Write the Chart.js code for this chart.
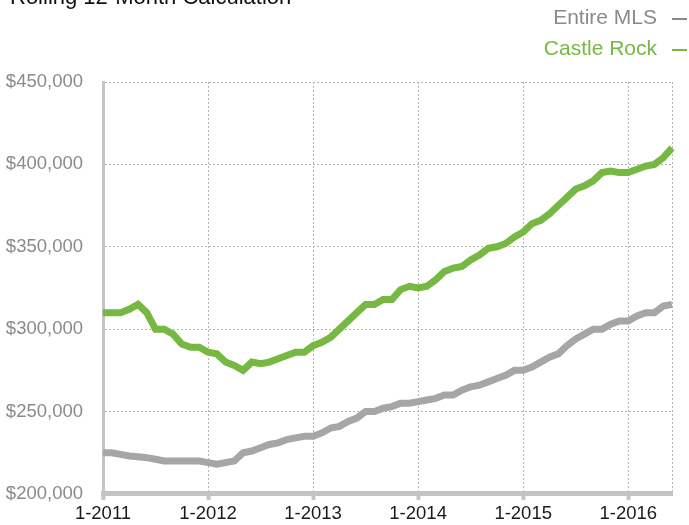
<!DOCTYPE html>
<html>
<head>
<meta charset="utf-8">
<script src="https://cdn.jsdelivr.net/npm/chart.js@4"></script>
<style>
  html, body { margin: 0; padding: 0; background: #fff; }
</style>
</head>
<body>
<canvas id="chart" width="689" height="525"></canvas>
<script>
// monthly labels 1-2011 .. 6-2016
const months = [];
for (let y = 2011; y <= 2016; y++) {
  for (let m = 1; m <= 12; m++) {
    if (y === 2016 && m > 6) break;
    months.push(m + "-" + y);
  }
}

const entireMls = [
  225000, 225000, 224000, 223000, 222500, 222000, 221000, 220000, 220000, 220000, 220000, 220000,
  219000, 218000, 219000, 220000, 225000, 226000, 228000, 230000, 231000, 233000, 234000, 235000,
  235000, 237000, 240000, 241000, 244000, 246000, 250000, 250000, 252000, 253000, 255000, 255000,
  256000, 257000, 258000, 260000, 260000, 263000, 265000, 266000, 268000, 270000, 272000, 275000,
  275000, 277000, 280000, 283000, 285000, 290000, 294000, 297000, 300000, 300000, 303000, 305000,
  305000, 308000, 310000, 310000, 314000, 315000
];

const castleRock = [
  310000, 310000, 310000, 312000, 315000, 310000, 300000, 300000, 297000, 291000, 289000, 289000,
  286000, 285000, 280000, 278000, 275000, 280000, 279000, 280000, 282000, 284000, 286000, 286000,
  290000, 292000, 295000, 300000, 305000, 310000, 315000, 315000, 318000, 318000, 324000, 326000,
  325000, 326000, 330000, 335000, 337000, 338000, 342000, 345000, 349000, 350000, 352000, 356000,
  359000, 364000, 366000, 370000, 375000, 380000, 385000, 387000, 390000, 395000, 396000, 395000,
  395000, 397000, 399000, 400000, 404000, 410000
];

const seriesNames = ["Entire MLS", "Castle Rock"];
const seriesColors = ["#a6a6a6", "#77b843"];
const legendColors = ["#8a8a8a", "#77b843"];

const FONT = "'Liberation Sans', Arial, sans-serif";

const headerPlugin = {
  id: "header",
  afterDraw(chart) {
    const ctx = chart.ctx;
    ctx.save();
    ctx.fillStyle = "#111";
    ctx.font = "22px " + FONT;
    ctx.textAlign = "left";
    ctx.textBaseline = "alphabetic";
    ctx.fillText("Rolling 12-Month Calculation", 10, 4);

    ctx.font = "21px " + FONT;
    ctx.textAlign = "right";
    ctx.textBaseline = "middle";
    [18, 49].forEach((y, i) => {
      ctx.fillStyle = legendColors[i];
      ctx.fillText(seriesNames[i], 657, y);
      ctx.strokeStyle = legendColors[i];
      ctx.lineWidth = 2;
      ctx.beginPath();
      ctx.moveTo(672, y + 1);
      ctx.lineTo(687, y + 1);
      ctx.stroke();
    });
    ctx.restore();
  }
};

const isYear = (i) => i % 12 === 0;

new Chart(document.getElementById("chart"), {
  type: "line",
  data: {
    labels: months,
    datasets: [
      {
        label: seriesNames[0],
        data: entireMls,
        borderColor: seriesColors[0],
        borderWidth: 7,
        pointRadius: 0,
        tension: 0,
        fill: false
      },
      {
        label: seriesNames[1],
        data: castleRock,
        borderColor: seriesColors[1],
        borderWidth: 7,
        pointRadius: 0,
        tension: 0,
        fill: false
      }
    ]
  },
  options: {
    responsive: false,
    animation: false,
    devicePixelRatio: 1,
    layout: { padding: { top: 82, right: 17, left: 0, bottom: 0 } },
    plugins: {
      legend: { display: false },
      title: { display: false },
      tooltip: { enabled: false }
    },
    scales: {
      x: {
        offset: false,
        afterFit(s) { s.height = 31; },
        border: { color: "#c4c4c4", width: 5, dash: [2, 2] },
        grid: {
          color: (c) => (isYear(c.index) || c.index === months.length - 1) ? "#b5b5b5" : "rgba(0,0,0,0)",
          lineWidth: 1,
          tickColor: (c) => isYear(c.index) ? "#c4c4c4" : "rgba(0,0,0,0)",
          tickWidth: 4,
          tickLength: 6,
          tickBorderDash: []
        },
        ticks: {
          autoSkip: false,
          maxRotation: 0,
          padding: 3,
          color: "#1a1a1a",
          font: { family: FONT, size: 18.5 },
          callback(v, i) { return isYear(i) ? months[i] : ""; }
        }
      },
      y: {
        min: 200000,
        max: 450000,
        afterFit(s) { s.width = 103; },
        border: { color: "#c4c4c4", width: 3, dash: [2, 2] },
        grid: {
          color: "#b5b5b5",
          lineWidth: 1,
          drawTicks: false
        },
        ticks: {
          stepSize: 50000,
          padding: 20,
          color: "#8a8a8a",
          font: { family: FONT, size: 18.5 },
          callback(v) { return "$" + v.toLocaleString("en-US"); }
        }
      }
    }
  },
  plugins: [headerPlugin]
});
</script>
</body>
</html>
